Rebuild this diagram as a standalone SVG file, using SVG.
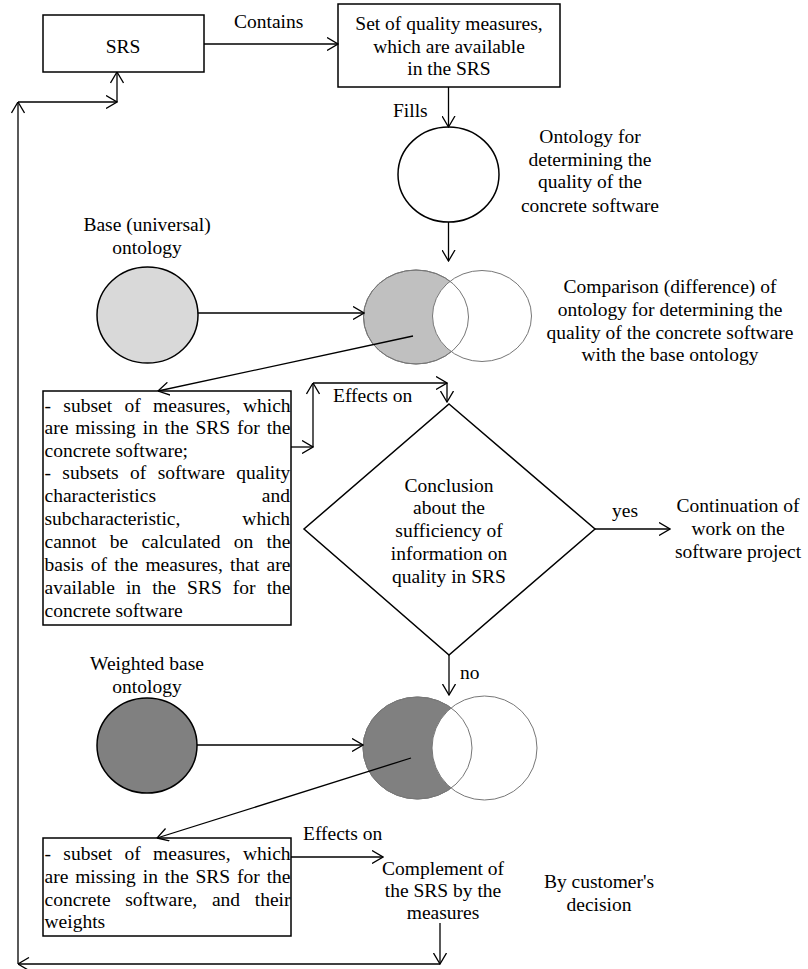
<svg xmlns="http://www.w3.org/2000/svg" width="808" height="969" viewBox="0 0 808 969">
<style>
text{font-family:"Liberation Serif","Times New Roman",serif;font-size:19.5px;fill:#000}
.c{text-anchor:middle}
.e{text-anchor:end}
.box{fill:#fff;stroke:#000;stroke-width:1.5}
.ln{fill:none;stroke:#000;stroke-width:1.3;marker-end:url(#a)}
.ven{stroke:#777;stroke-width:1}
</style>
<defs>
<marker id="a" viewBox="0 0 12 14" refX="11.5" refY="7" markerWidth="12" markerHeight="14" markerUnits="userSpaceOnUse" orient="auto">
<path d="M0.5,0.5 L11.5,7 L0.5,13.5" fill="none" stroke="#000" stroke-width="1.3"/>
</marker>
</defs>
<rect width="808" height="969" fill="#fff"/>

<g id="srs">
<rect class="box" x="43" y="15" width="161" height="57"/>
<text class="c" x="123" y="53">SRS</text>
</g>

<g id="set-measures">
<rect class="box" x="338" y="4" width="222" height="83"/>
<text class="c" x="449" y="30">Set of quality measures,</text>
<text class="c" x="449" y="53">which are available</text>
<text class="c" x="449" y="75">in the SRS</text>
</g>

<g id="ontology-concrete">
<ellipse cx="448.5" cy="174.5" rx="50.5" ry="47.5" fill="#fff" stroke="#000" stroke-width="1.5"/>
<text class="c" x="590" y="143">Ontology for</text>
<text class="c" x="590" y="166">determining the</text>
<text class="c" x="590" y="188">quality of the</text>
<text class="c" x="590" y="212">concrete software</text>
</g>

<g id="base-ontology">
<text class="c" x="147" y="231">Base (universal)</text>
<text class="c" x="147" y="254">ontology</text>
<ellipse cx="147.5" cy="315" rx="50.5" ry="48" fill="#d9d9d9" stroke="#000" stroke-width="1.5"/>
</g>

<g id="comparison">
<ellipse class="ven" cx="416" cy="317" rx="52.5" ry="47" fill="#c0c0c0"/>
<ellipse class="ven" cx="482" cy="316" rx="49.5" ry="45.5" fill="#fff"/>
<ellipse class="ven" cx="416" cy="317" rx="52.5" ry="47" fill="none"/>
<text class="c" x="670" y="293">Comparison (difference) of</text>
<text class="c" x="670" y="316">ontology for determining the</text>
<text class="c" x="670" y="339">quality of the concrete software</text>
<text class="c" x="670" y="361">with the base ontology</text>
</g>

<g id="missing-box">
<rect class="box" x="43" y="391" width="248" height="234"/>
<text x="44.5" y="412" word-spacing="7.5">- subset of measures, which</text>
<text x="44.5" y="434" word-spacing="2">are missing in the SRS for the</text>
<text x="44.5" y="457">concrete software;</text>
<text x="44.5" y="479" word-spacing="6.5">- subsets of software quality</text>
<text x="44.5" y="502">characteristics</text>
<text class="e" x="290" y="502">and</text>
<text x="44.5" y="525">subcharacteristic,</text>
<text class="e" x="290" y="525">which</text>
<text x="44.5" y="548" word-spacing="8.4">cannot be calculated on the</text>
<text x="44.5" y="571" word-spacing="2.4">basis of the measures, that are</text>
<text x="44.5" y="594" word-spacing="6.2">available in the SRS for the</text>
<text x="44.5" y="617">concrete software</text>
</g>

<g id="conclusion">
<polygon points="449,404 595,529 449,655 304,529" fill="#fff" stroke="#000" stroke-width="1.5"/>
<text class="c" x="449" y="492">Conclusion</text>
<text class="c" x="449" y="514">about the</text>
<text class="c" x="449" y="537">sufficiency of</text>
<text class="c" x="449" y="560">information on</text>
<text class="c" x="449" y="583">quality in SRS</text>
</g>

<g id="continuation">
<text class="c" x="738" y="512">Continuation of</text>
<text class="c" x="738" y="535">work on the</text>
<text class="c" x="738" y="558">software project</text>
</g>

<g id="weighted-ontology">
<text class="c" x="147" y="670">Weighted base</text>
<text class="c" x="147" y="693">ontology</text>
<ellipse cx="147" cy="745.5" rx="50" ry="47.5" fill="#808080" stroke="#000" stroke-width="1.5"/>
</g>

<g id="weighted-comparison">
<ellipse class="ven" cx="417.5" cy="748" rx="54.5" ry="51" fill="#808080"/>
<ellipse class="ven" cx="484.5" cy="748" rx="52.5" ry="52" fill="#fff"/>
<ellipse class="ven" cx="417.5" cy="748" rx="54.5" ry="51" fill="none"/>
</g>

<g id="weighted-missing-box">
<rect class="box" x="43" y="838" width="248" height="98"/>
<text x="44.5" y="860" word-spacing="7.5">- subset of measures, which</text>
<text x="44.5" y="883" word-spacing="2">are missing in the SRS for the</text>
<text x="44.5" y="906" word-spacing="9.8">concrete software, and their</text>
<text x="44.5" y="928">weights</text>
</g>

<g id="complement">
<text class="c" x="443" y="875">Complement of</text>
<text class="c" x="443" y="897">the SRS by the</text>
<text class="c" x="443" y="919">measures</text>
</g>

<g id="customer-decision">
<text class="c" x="599" y="888">By customer's</text>
<text class="c" x="599" y="911">decision</text>
</g>

<g id="connectors">
<line class="ln" x1="204" y1="44" x2="338" y2="44"/>
<text x="234" y="28">Contains</text>
<line class="ln" x1="448.5" y1="87" x2="448.5" y2="127"/>
<text x="393" y="117">Fills</text>
<line class="ln" x1="448.5" y1="222" x2="448.5" y2="261"/>
<line class="ln" x1="198" y1="313" x2="364" y2="313"/>
<line class="ln" x1="413" y1="336" x2="158" y2="391"/>
<line class="ln" x1="291" y1="447" x2="313" y2="447"/>
<line class="ln" x1="313" y1="447" x2="313" y2="383"/>
<line class="ln" x1="313" y1="383" x2="447" y2="383"/>
<line class="ln" x1="447" y1="383" x2="447" y2="402"/>
<text x="333" y="402">Effects on</text>
<line class="ln" x1="595" y1="529" x2="670" y2="529"/>
<text x="612" y="517">yes</text>
<line class="ln" x1="449" y1="655" x2="449" y2="695"/>
<text x="460" y="679">no</text>
<line class="ln" x1="197" y1="745" x2="363" y2="745"/>
<line class="ln" x1="411" y1="758" x2="157" y2="838"/>
<line class="ln" x1="291" y1="857" x2="383" y2="857"/>
<text x="303" y="840">Effects on</text>
<line class="ln" x1="440" y1="923" x2="440" y2="964"/>
<line class="ln" x1="440" y1="964" x2="18" y2="964"/>
<line class="ln" x1="18" y1="964" x2="18" y2="102"/>
<line class="ln" x1="18" y1="102" x2="117" y2="102"/>
<line class="ln" x1="117" y1="102" x2="117" y2="72"/>
</g>
</svg>
